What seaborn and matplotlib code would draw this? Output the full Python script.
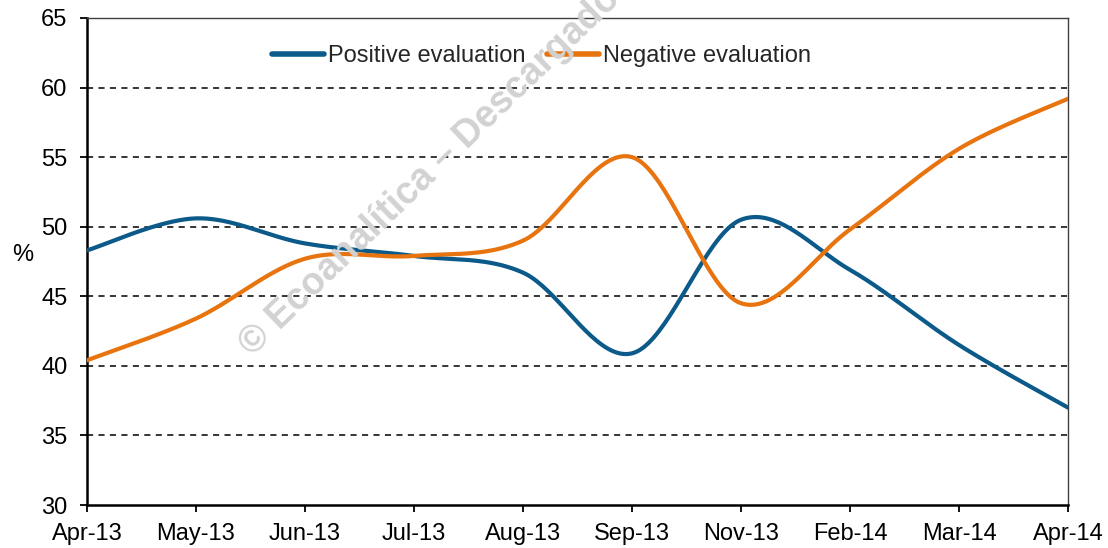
import numpy as np
import pandas as pd
import matplotlib
matplotlib.use("Agg")
import matplotlib.pyplot as plt
import seaborn as sns

months = ["Apr-13", "May-13", "Jun-13", "Jul-13", "Aug-13", "Sep-13",
          "Nov-13", "Feb-14", "Mar-14", "Apr-14"]
positive = [48.3, 50.6, 48.8, 47.9, 46.7, 40.9, 50.5, 46.9, 41.5, 37.0]
negative = [40.4, 43.4, 47.7, 47.9, 49.0, 55.0, 44.5, 49.8, 55.6, 59.2]
series_names = ["Positive evaluation", "Negative evaluation"]
colors = ["#0B5A8A", "#E8740F"]


def smooth(xs, ys, n=40):
    """Excel-style smoothing: Catmull-Rom Bezier through the points."""
    P = np.column_stack([xs, ys]).astype(float)
    ext = np.vstack([P[0], P, P[-1]])
    out = []
    for i in range(len(P) - 1):
        p0, p1, p2, p3 = ext[i], ext[i + 1], ext[i + 2], ext[i + 3]
        c1 = p1 + (p2 - p0) / 6.0
        c2 = p2 - (p3 - p1) / 6.0
        t = np.linspace(0, 1, n, endpoint=(i == len(P) - 2))[:, None]
        seg = ((1 - t) ** 3) * p1 + 3 * ((1 - t) ** 2) * t * c1 + 3 * (1 - t) * t ** 2 * c2 + t ** 3 * p2
        out.append(seg)
    return np.vstack(out)


sns.set_theme(style="white")
plt.rcParams["font.family"] = ["Liberation Sans", "DejaVu Sans"]

FS = 17

fig = plt.figure(figsize=(11.08, 5.48), dpi=100)
ax = fig.add_axes([87 / 1108, 1 - 505 / 548, (1068 - 87) / 1108, (505 - 18) / 548])

x = np.arange(len(months))
frames = []
for name, vals in zip(series_names, [positive, negative]):
    s = smooth(x, vals)
    frames.append(pd.DataFrame({"x": s[:, 0], "y": s[:, 1], "series": name}))
df = pd.concat(frames, ignore_index=True)

sns.lineplot(data=df, x="x", y="y", hue="series", palette=colors,
             hue_order=series_names, sort=False, estimator=None, units="series",
             linewidth=3.0, ax=ax, zorder=5)
for line in ax.get_lines():
    line.set_solid_capstyle("round")

ax.set_xlim(0, len(months) - 1)
ax.set_ylim(30, 65)
ax.set_yticks(np.arange(30, 66, 5))
ax.set_xticks(x)
ax.set_xticklabels(months)
ax.tick_params(axis="both", labelsize=FS, colors="black", direction="out",
               length=5, width=1.3, left=True, bottom=True)
ax.tick_params(axis="y", pad=9)
ax.tick_params(axis="x", pad=8)

for yv in np.arange(35, 66, 5):
    ax.axhline(yv, color="black", linestyle=(0, (4, 3.5)), linewidth=1.1, zorder=1)

ax.set_xlabel("")
ax.set_ylabel("%", rotation=0, fontsize=FS, color="black")
ax.yaxis.set_label_coords(-0.0655, 0.49)

for side in ["left", "bottom"]:
    ax.spines[side].set_color("black")
    ax.spines[side].set_linewidth(1.8)
for side in ["top", "right"]:
    ax.spines[side].set_color("#404040")
    ax.spines[side].set_linewidth(1.0)

leg = ax.legend(loc="center", bbox_to_anchor=(0.4633, 0.922), ncol=2, frameon=False,
                fontsize=FS, handlelength=2.2, handletextpad=0.17, columnspacing=0.9,
                borderpad=0, borderaxespad=0)
for h in leg.get_lines():
    h.set_linewidth(4)
    h.set_solid_capstyle("round")

fig.text(245 / 1108, 1 - 350 / 548, "© Ecoanalítica – Descargado",
         rotation=44, fontsize=27, fontweight="bold", color="#d2d2d2",
         ha="left", va="center", rotation_mode="anchor", zorder=3)

fig.savefig("out.png", dpi=100, facecolor="white")
